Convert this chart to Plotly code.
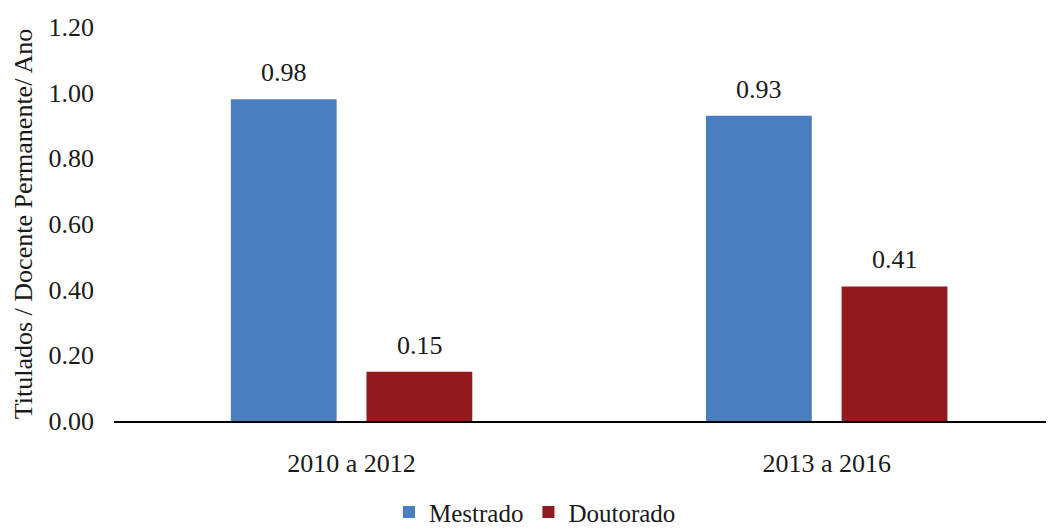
import plotly.graph_objects as go

categories = ["2010 a 2012", "2013 a 2016"]
mestrado = [0.98, 0.93]
doutorado = [0.15, 0.41]
series_names = ["Mestrado", "Doutorado"]
colors = ["#4A7EBF", "#8F1B1E"]
y_ticks = [0.0, 0.2, 0.4, 0.6, 0.8, 1.0, 1.2]

font_family = "Liberation Serif"
font_color = "#1a1a1a"
fs = 26

fig = go.Figure()
for name, vals, col in zip(series_names, [mestrado, doutorado], colors):
    fig.add_trace(go.Bar(x=categories, y=vals, name=name, marker=dict(color=col, line=dict(width=0))))

# value labels
offsets = [-0.143, 0.143]
for vals, off in zip([mestrado, doutorado], offsets):
    for i, v in enumerate(vals):
        fig.add_annotation(x=i + off, y=v, text=f"{v:.2f}", showarrow=False,
                           yanchor="bottom", yshift=10,
                           font=dict(family=font_family, size=fs, color=font_color))

# page body has an 8px margin, so figure coords are offset by (8, 8)
fig.update_layout(
    width=1054, height=529,
    margin=dict(l=106, r=12, t=19, b=116),
    paper_bgcolor="white", plot_bgcolor="white",
    barmode="group", bargap=0.429, bargroupgap=0.22,
    font=dict(family=font_family, size=fs, color=font_color),
    legend=dict(orientation="h", xref="container", yref="container",
                x=0.5, xanchor="center", y=0.047, yanchor="middle",
                font=dict(family=font_family, size=fs - 1, color=font_color),
                itemwidth=30, traceorder="normal"),
    showlegend=True,
)
fig.update_xaxes(range=[-0.5, 1.47], showline=True, linecolor="black", linewidth=2,
                 ticks="", showgrid=False, ticklabelstandoff=18, automargin=False,
                 tickfont=dict(family=font_family, size=fs, color=font_color))
fig.update_yaxes(range=[0, 1.2], tickvals=y_ticks, ticktext=[f"{t:.2f}" for t in y_ticks],
                 showgrid=False, zeroline=False, showline=False, ticks="",
                 ticklabelstandoff=19, automargin=False,
                 tickfont=dict(family=font_family, size=fs, color=font_color))
fig.add_annotation(text="Titulados / Docente Permanente/ Ano", textangle=-90,
                   xref="paper", yref="paper", x=-0.097, xanchor="center",
                   y=0.5, yanchor="middle", showarrow=False,
                   font=dict(family=font_family, size=fs, color=font_color))

fig.write_html("out.html")
